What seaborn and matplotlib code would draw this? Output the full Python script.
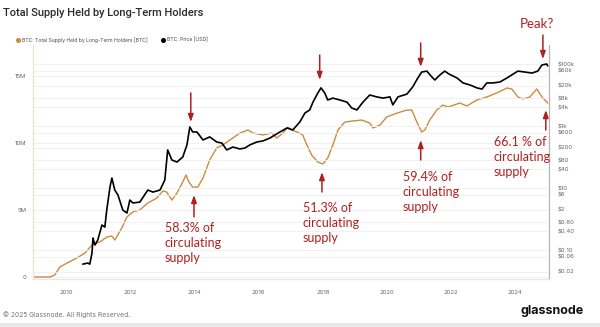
import matplotlib
matplotlib.use("Agg")
import matplotlib.pyplot as plt
from matplotlib.lines import Line2D
from matplotlib.patches import Rectangle
import seaborn as sns
import pandas as pd

# ---------------- data ----------------
lth_year = [2008.96, 2009.49, 2009.64, 2009.80, 2010.02, 2010.33, 2010.58, 2010.80, 2011.04, 2011.26,
            2011.42, 2011.51, 2011.73, 2011.89, 2012.07, 2012.29, 2012.54, 2012.82, 2013.01, 2013.13,
            2013.29, 2013.45, 2013.63, 2013.73, 2013.82, 2013.94, 2014.10, 2014.26, 2014.47, 2014.69,
            2014.88, 2015.19, 2015.41, 2015.66, 2015.82, 2016.13, 2016.41, 2016.56, 2016.75, 2016.91,
            2017.03, 2017.19, 2017.37, 2017.50, 2017.65, 2017.84, 2018.00, 2018.15, 2018.31, 2018.47,
            2018.68, 2018.93, 2019.21, 2019.46, 2019.56, 2019.78, 2019.99, 2020.31, 2020.62, 2020.77,
            2020.93, 2021.08, 2021.18, 2021.33, 2021.55, 2021.74, 2021.90, 2022.27, 2022.49, 2022.80,
            2023.11, 2023.42, 2023.74, 2023.89, 2024.08, 2024.23, 2024.45, 2024.67, 2024.83, 2025.01]
lth_supply_m = [0.0, 0.0, 0.15, 0.75, 1.04, 1.42, 1.79, 2.39, 2.61, 2.98,
                3.06, 2.76, 3.66, 4.48, 4.85, 5.00, 5.52, 5.89, 6.42, 6.34,
                5.74, 6.27, 7.09, 7.61, 7.09, 6.71, 6.71, 7.39, 8.73, 9.63,
                9.85, 10.37, 10.74, 10.97, 10.74, 10.60, 10.74, 10.37, 10.74, 11.19,
                10.97, 10.82, 10.60, 9.85, 9.10, 8.58, 8.43, 8.88, 9.85, 10.97,
                11.56, 11.64, 11.71, 11.49, 11.12, 11.34, 11.94, 12.23, 12.46, 12.46,
                11.56, 10.82, 10.97, 11.71, 12.46, 12.83, 12.68, 12.98, 12.76, 13.21,
                13.43, 13.73, 14.10, 14.03, 13.43, 13.28, 13.43, 14.03, 13.43, 12.98]

price_year = [2010.51, 2010.67, 2010.73, 2010.80, 2010.83, 2010.89, 2010.98, 2011.11, 2011.20, 2011.26,
              2011.36, 2011.42, 2011.51, 2011.61, 2011.76, 2011.89, 2011.98, 2012.07, 2012.29, 2012.54,
              2012.70, 2012.92, 2013.07, 2013.16, 2013.29, 2013.45, 2013.63, 2013.76, 2013.85, 2013.94,
              2014.07, 2014.26, 2014.47, 2014.69, 2014.85, 2015.00, 2015.19, 2015.41, 2015.57, 2015.72,
              2015.94, 2016.13, 2016.35, 2016.60, 2016.88, 2017.06, 2017.28, 2017.44, 2017.59, 2017.69,
              2017.84, 2017.94, 2018.06, 2018.15, 2018.31, 2018.53, 2018.75, 2018.90, 2019.06, 2019.25,
              2019.46, 2019.68, 2019.87, 2020.09, 2020.18, 2020.34, 2020.62, 2020.80, 2020.96, 2021.08,
              2021.24, 2021.40, 2021.49, 2021.65, 2021.80, 2021.93, 2022.18, 2022.37, 2022.59, 2022.80,
              2022.96, 2023.11, 2023.30, 2023.52, 2023.74, 2023.89, 2024.08, 2024.30, 2024.52, 2024.70,
              2024.83, 2024.98, 2025.01]
price_usd = [0.035, 0.038, 0.035, 0.080, 0.245, 0.145, 0.21, 0.64, 0.55, 1.95,
             10.7, 21, 8.6, 5.9, 1.95, 1.56, 4.1, 3.3, 3.5, 8.6,
             7.4, 8.6, 18, 169, 80, 69, 100, 245, 930, 645,
             645, 355, 445, 305, 282, 169, 210, 182, 195, 245,
             305, 330, 410, 590, 865, 745, 1350, 2630, 3300, 5900,
             11500, 17000, 11500, 6900, 7950, 6900, 5900, 3800, 3300, 5900,
             10000, 8700, 7950, 8700, 4800, 8700, 10700, 18200, 35500, 55000,
             59000, 38000, 30500, 44500, 59000, 47500, 35500, 24500, 21000, 17000,
             15500, 24500, 24500, 26300, 35500, 44500, 59000, 55000, 51000, 59000,
             93000, 100000, 87000]

x_ticks = [2010, 2012, 2014, 2016, 2018, 2020, 2022, 2024]
left_ticks_m = [0, 5, 10, 15]
left_tick_labels = ["0", "5M", "10M", "15M"]
right_ticks = [100000, 60000, 20000, 8000, 4000, 1000, 600, 200, 80, 40, 10, 6, 2, 0.8, 0.4, 0.1, 0.06, 0.02]
right_tick_labels = ["$100k", "$60k", "$20k", "$8k", "$4k", "$1k", "$600", "$200", "$80", "$40",
                     "$10", "$6", "$2", "$0.80", "$0.40", "$0.10", "$0.06", "$0.02"]

title = "Total Supply Held by Long-Term Holders"
legend_labels = ["BTC: Total Supply Held by Long-Term Holders [BTC]", "BTC: Price [USD]"]

# ---------------- styling ----------------
sns.set_style("white")
plt.rcParams["font.family"] = ["Inter", "DejaVu Sans"]

ORANGE = "#c98d3f"
RED = "#b0201f"
TICK = "#666666"
GRID = "#efefef"

W, H = 600, 327
fig = plt.figure(figsize=(W / 100, H / 100), dpi=100)
fig.patch.set_facecolor("white")

ax = fig.add_axes([33 / W, 1 - 279 / H, (549 - 33) / W, (279 - 45) / H])
ax2 = ax.twinx()

lth_df = pd.DataFrame({"year": lth_year, "supply": [v * 1e6 for v in lth_supply_m]})
price_df = pd.DataFrame({"year": price_year, "price": price_usd})

sns.lineplot(data=lth_df, x="year", y="supply", ax=ax, color=ORANGE, lw=1.0, estimator=None)
sns.lineplot(data=price_df, x="year", y="price", ax=ax2, color="black", lw=1.2, estimator=None)

ax.set_xlim(2008.96, 2025.05)
ax.set_ylim(-0.149e6, 17.31e6)
ax2.set_yscale("log")
ax2.set_ylim(10 ** (-1.935), 10 ** 5.613)

ax.set_xticks(x_ticks)
ax.set_xticklabels([str(t) for t in x_ticks])
ax.set_yticks([v * 1e6 for v in left_ticks_m])
ax.set_yticklabels(left_tick_labels)
ax2.set_yticks(right_ticks)
ax2.set_yticklabels(right_tick_labels)
ax2.yaxis.set_minor_locator(matplotlib.ticker.NullLocator())

for a in (ax, ax2):
    a.set_xlabel("")
    a.set_ylabel("")
    a.tick_params(length=0, labelsize=4.3, colors=TICK)
ax.tick_params(axis="x", pad=8)
ax.tick_params(axis="y", pad=5)
ax2.tick_params(axis="y", pad=6)

ax.grid(False)
ax2.grid(True, axis="y", color=GRID, lw=0.6, zorder=0)
ax2.grid(False, axis="x")
ax2.set_axisbelow(True)
for y in left_ticks_m:
    ax.axhline(y * 1e6, color=GRID, lw=0.6, zorder=0)

for a in (ax, ax2):
    a.spines["top"].set_visible(False)
    a.spines["left"].set_color("#f0e2cc")
    a.spines["right"].set_color("#b5b5b5")
    a.spines["bottom"].set_color("#e6e6e6")
    for s in a.spines.values():
        s.set_linewidth(0.8)
ax.patch.set_visible(False)

# ---------------- annotations (drawn on the top axes, in left-axis units) ----------------
aprops = dict(arrowstyle="-|>,head_length=0.45,head_width=0.16", color=RED, lw=1.1, shrinkA=0, shrinkB=0)
arrows = [
    ((2013.88, 11.56), (2013.88, 13.73)),
    ((2013.98, 6.12), (2013.98, 4.48)),
    ((2017.90, 14.70), (2017.90, 16.56)),
    ((2017.97, 7.83), (2017.97, 6.34)),
    ((2021.05, 15.67), (2021.05, 17.46)),
    ((2021.05, 10.22), (2021.05, 8.73)),
    ((2024.86, 16.26), (2024.86, 18.05)),
    ((2024.95, 12.46), (2024.95, 10.97)),
]
for tip, tail in arrows:
    ax2.annotate("", xy=(tip[0], tip[1] * 1e6), xytext=(tail[0], tail[1] * 1e6),
                 xycoords=ax.transData, textcoords=ax.transData,
                 arrowprops=aprops, annotation_clip=False, zorder=10)

afont = dict(color=RED, fontsize=9, family=["Lato", "DejaVu Sans"], linespacing=1.27,
             va="center", ha="left", clip_on=False, transform=ax.transData, zorder=10)
ax2.text(2013.07, 2.54e6, "58.3% of\ncirculating\nsupply", **afont)
ax2.text(2017.37, 4.03e6, "51.3% of\ncirculating\nsupply", **afont)
ax2.text(2020.49, 6.34e6, "59.4% of\ncirculating\nsupply", **afont)
ax2.text(2023.33, 8.95e6, "66.1 % of\ncirculating\nsupply", **afont)
ax2.text(2024.67, 18.84e6, "Peak?", color=RED, fontsize=9.5, family=["Lato", "DejaVu Sans"],
         ha="center", va="center", clip_on=False, transform=ax.transData, zorder=10)

# ---------------- title, legend, footer ----------------
fig.text(3 / W, 1 - 13 / H, title, fontsize=8.0, fontweight="medium", color="#2b2b2b",
         ha="left", va="center", family=["Roboto", "DejaVu Sans"])

ly = 1 - 40 / H
fig.add_artist(Line2D([18 / W], [ly], marker="o", markersize=2.6, color=ORANGE, lw=0,
                      transform=fig.transFigure))
fig.text(22 / W, ly, legend_labels[0], fontsize=3.6, color="#444444", ha="left", va="center")
fig.add_artist(Line2D([163 / W], [ly], marker="o", markersize=2.6, color="black", lw=0,
                      transform=fig.transFigure))
fig.text(167 / W, ly, legend_labels[1], fontsize=3.6, color="#444444", ha="left", va="center")

fig.text(3 / W, 1 - 315 / H, "\u00a9 2025 Glassnode. All Rights Reserved.", fontsize=4.8,
         color="#777777", ha="left", va="center")
fig.text(552 / W, 1 - 311 / H, "glassnode", fontsize=9, fontweight="bold", color="#111111",
         ha="center", va="center")
fig.add_artist(Rectangle((0, 0), 1, 4 / H, transform=fig.transFigure, color="#e9e9e9", lw=0))

fig.savefig("out.png", dpi=100)
